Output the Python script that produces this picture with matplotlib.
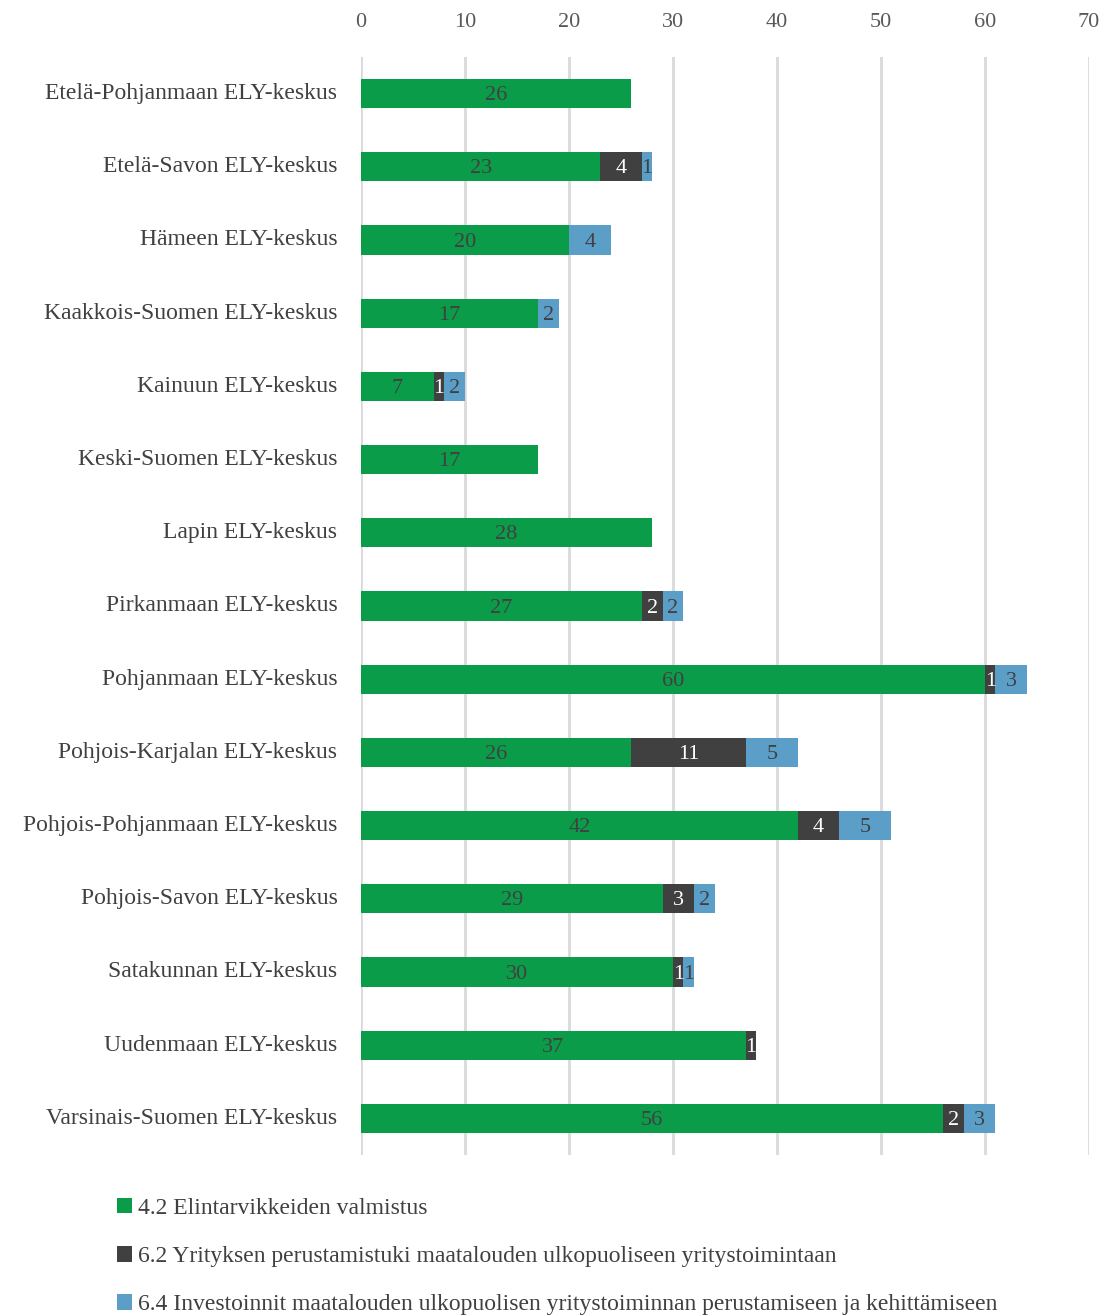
import matplotlib.pyplot as plt
import numpy as np

plt.rcParams['font.family'] = ['Liberation Serif', 'DejaVu Serif']

categories = ['Etelä-Pohjanmaan ELY-keskus', 'Etelä-Savon ELY-keskus', 'Hämeen ELY-keskus',
              'Kaakkois-Suomen ELY-keskus', 'Kainuun ELY-keskus', 'Keski-Suomen ELY-keskus',
              'Lapin ELY-keskus', 'Pirkanmaan ELY-keskus', 'Pohjanmaan ELY-keskus',
              'Pohjois-Karjalan ELY-keskus', 'Pohjois-Pohjanmaan ELY-keskus',
              'Pohjois-Savon ELY-keskus', 'Satakunnan ELY-keskus', 'Uudenmaan ELY-keskus',
              'Varsinais-Suomen ELY-keskus']
s42 = [26, 23, 20, 17, 7, 17, 28, 27, 60, 26, 42, 29, 30, 37, 56]
s62 = [0, 4, 0, 0, 1, 0, 0, 2, 1, 11, 4, 3, 1, 1, 2]
s64 = [0, 1, 4, 2, 2, 0, 0, 2, 3, 5, 5, 2, 1, 0, 3]
series_names = ['4.2 Elintarvikkeiden valmistus',
                '6.2 Yrityksen perustamistuki maatalouden ulkopuoliseen yritystoimintaan',
                '6.4 Investoinnit maatalouden ulkopuolisen yritystoiminnan perustamiseen ja kehittämiseen']
colors = ['#0b9c4a', '#404040', '#5b9fc9']
text_colors = ['#404040', 'white', '#404040']
xticks = [0, 10, 20, 30, 40, 50, 60, 70]

fig = plt.figure(figsize=(11.05, 13.15), dpi=100)
ax = fig.add_axes([361 / 1105, 1 - 1155 / 1315, (1089 - 361) / 1105, (1155 - 57) / 1315])

y = np.arange(len(categories))
left = np.zeros(len(categories))
handles = []
for vals, c, tc, name in zip([s42, s62, s64], colors, text_colors, series_names):
    vals = np.array(vals, dtype=float)
    h = ax.barh(y, vals, left=left, height=0.4, color=c, label=name, zorder=3)
    handles.append(h)
    for yi, l, v in zip(y, left, vals):
        if v > 0:
            ax.text(l + v / 2, yi + 0.03, str(int(v)), ha='center', va='center',
                    fontsize=16, color=tc, zorder=4)
    left += vals

ax.set_xlim(0, 70)
ax.set_ylim(len(categories) - 0.5, -0.5)
ax.set_xticks(xticks)
ax.xaxis.tick_top()
ax.tick_params(axis='x', length=0, pad=18, labelsize=16, labelcolor='#595959')
ax.tick_params(axis='y', length=0, pad=17, labelsize=17, labelcolor='#404040')
ax.set_yticks(y)
ax.set_yticklabels(categories, va='bottom')
for lbl in ax.get_yticklabels():
    lbl.set_va('center')
ax.grid(axis='x', color='#d9d9d9', linewidth=2, zorder=0)
for s in ax.spines.values():
    s.set_visible(False)

fig.legend(handles=handles, labels=series_names, loc='upper left',
           bbox_to_anchor=(100 / 1105, 1 - 1181 / 1315), frameon=False,
           fontsize=17, labelcolor='#404040', handlelength=0.65, handleheight=0.65,
           handletextpad=0.25, labelspacing=1.15, borderaxespad=0.3)

fig.savefig('out.png', dpi=100)
